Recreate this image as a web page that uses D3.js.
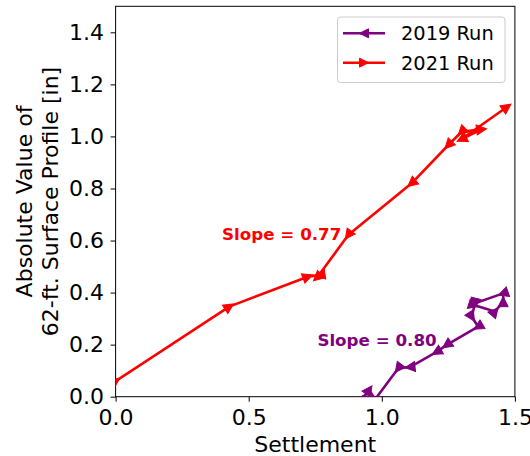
<!DOCTYPE html>
<html>
<head>
<meta charset="utf-8">
<script src="https://cdn.jsdelivr.net/npm/d3@7"></script>
<style>
  html, body { margin: 0; padding: 0; background: #fff; }
  svg { display: block; font-family: "DejaVu Sans", sans-serif; }
</style>
</head>
<body>
<svg id="chart" width="530" height="456"></svg>
<script>
// ---- data ----
const run2019X = [0.93, 0.952, 0.975, 1.062, 1.106, 1.206, 1.244, 1.362, 1.338, 1.350, 1.456, 1.456, 1.425, 1.345];
const run2019Y = [-0.005, 0.026, -0.01, 0.109, 0.114, 0.172, 0.199, 0.269, 0.307, 0.359, 0.397, 0.365, 0.327, 0.352];
const run2019Dir = [1, 1, -1, -1, -1, -1, -1, -1, -1, -1, -1, -1, -1, -1];

const run2021X = [0.0, 0.427, 0.722, 0.768, 0.757, 0.874, 1.112, 1.25, 1.30, 1.375, 1.30, 1.47];
const run2021Y = [0.06, 0.346, 0.461, 0.468, 0.458, 0.621, 0.820, 0.967, 1.018, 1.027, 0.99, 1.113];
const run2021Dir = [1, 1, 1, -1, 1, -1, -1, -1, -1, 1, 1, 1];

const seriesNames = ["2019 Run", "2021 Run"];
const seriesColors = ["#800080", "#ff0000"];
const xTicks = [0.0, 0.5, 1.0, 1.5];
const yTicks = [0.0, 0.2, 0.4, 0.6, 0.8, 1.0, 1.2, 1.4];
const slopeLabels = ["Slope = 0.80", "Slope = 0.77"];
const slopeLabelX = [1.206, 0.848];
const slopeLabelY = [0.219, 0.625];
const xLabel = "Settlement";
const yLabelLines = ["Absolute Value of", "62-ft. Surface Profile [in]"];

// ---- layout ----
const L = 115.6, R = 514.9, T = 6.3, B = 396.7;
const svg = d3.select("#chart");
const x = d3.scaleLinear().domain([0, 1.5]).range([L, R]);
const y = d3.scaleLinear().domain([0, 1.5]).range([B, T]);

svg.append("defs").append("clipPath").attr("id", "clip")
  .append("rect").attr("x", L).attr("y", T).attr("width", R - L).attr("height", B - T);

// axes
const xAxis = d3.axisBottom(x).tickValues(xTicks).tickFormat(d3.format(".1f")).tickSize(5).tickPadding(7.5);
const yAxis = d3.axisLeft(y).tickValues(yTicks).tickFormat(d3.format(".1f")).tickSize(5).tickPadding(6.5);

const gx = svg.append("g").attr("transform", `translate(0,${B})`).call(xAxis);
const gy = svg.append("g").attr("transform", `translate(${L},0)`).call(yAxis);
[gx, gy].forEach(g => {
  g.select(".domain").remove();
  g.selectAll("line").attr("stroke", "#000").attr("stroke-width", 1);
  g.selectAll("text").attr("font-size", "22px").attr("fill", "#000").attr("font-family", "DejaVu Sans");
});

// frame
svg.append("rect").attr("x", L).attr("y", T).attr("width", R - L).attr("height", B - T)
  .attr("fill", "none").attr("stroke", "#000").attr("stroke-width", 1);

// axis labels
svg.append("text").attr("x", (L + R) / 2).attr("y", 452).attr("text-anchor", "middle")
  .attr("font-size", "22px").attr("fill", "#000").text(xLabel);
const yl = svg.append("text").attr("transform", `translate(32,${(T + B) / 2}) rotate(-90)`)
  .attr("text-anchor", "middle").attr("font-size", "22px").attr("fill", "#000");
yLabelLines.forEach((t, i) => yl.append("tspan").attr("x", 0).attr("dy", i === 0 ? 0 : 26).text(t));

// triangle marker path pointing along +x, size s
function tri(s) {
  const h = s / 2;
  return `M${h},0L${-h},${h}L${-h},${-h}Z`;
}

const plot = svg.append("g").attr("clip-path", "url(#clip)");
const lineGen = d3.line().x(d => x(d[0])).y(d => y(d[1]));

function drawSeries(xs, ys, dirs, color) {
  const pts = xs.map((v, i) => [v, ys[i]]);
  plot.append("path").datum(pts).attr("d", lineGen)
    .attr("fill", "none").attr("stroke", color).attr("stroke-width", 2.6)
    .attr("stroke-linejoin", "round");
  pts.forEach((p, i) => {
    const a = i === 0 ? pts[0] : pts[i - 1];
    const b = i === 0 ? pts[1] : pts[i];
    let ang = Math.atan2(y(b[1]) - y(a[1]), x(b[0]) - x(a[0])) * 180 / Math.PI;
    if (dirs[i] < 0) ang += 180;
    plot.append("path").attr("d", tri(10))
      .attr("transform", `translate(${x(p[0])},${y(p[1])}) rotate(${ang})`)
      .attr("fill", color).attr("stroke", color).attr("stroke-width", 1);
  });
}
drawSeries(run2019X, run2019Y, run2019Dir, seriesColors[0]);
drawSeries(run2021X, run2021Y, run2021Dir, seriesColors[1]);

// slope annotations
slopeLabels.forEach((t, i) => {
  svg.append("text").attr("x", x(slopeLabelX[i])).attr("y", y(slopeLabelY[i])).attr("dy", "0.36em")
    .attr("text-anchor", "end").attr("font-size", "16.7px").attr("font-weight", "bold")
    .attr("fill", seriesColors[i]).text(t);
});

// legend
const lg = svg.append("g");
lg.append("rect").attr("x", 337.5).attr("y", 17).attr("width", 167.5).attr("height", 65.5)
  .attr("rx", 3).attr("fill", "#fff").attr("fill-opacity", 0.8).attr("stroke", "#cccccc").attr("stroke-width", 1);
seriesNames.forEach((n, i) => {
  const cy = 33.3 + i * 29.4;
  lg.append("line").attr("x1", 343).attr("x2", 385).attr("y1", cy).attr("y2", cy)
    .attr("stroke", seriesColors[i]).attr("stroke-width", 2.6);
  lg.append("path").attr("d", tri(9))
    .attr("transform", `translate(364,${cy}) rotate(${i === 0 ? 180 : 0})`)
    .attr("fill", seriesColors[i]).attr("stroke", seriesColors[i]).attr("stroke-width", 1);
  lg.append("text").attr("x", 401).attr("y", cy).attr("dy", "0.36em")
    .attr("font-size", "19.4px").attr("fill", "#000").text(n);
});
</script>
</body>
</html>
